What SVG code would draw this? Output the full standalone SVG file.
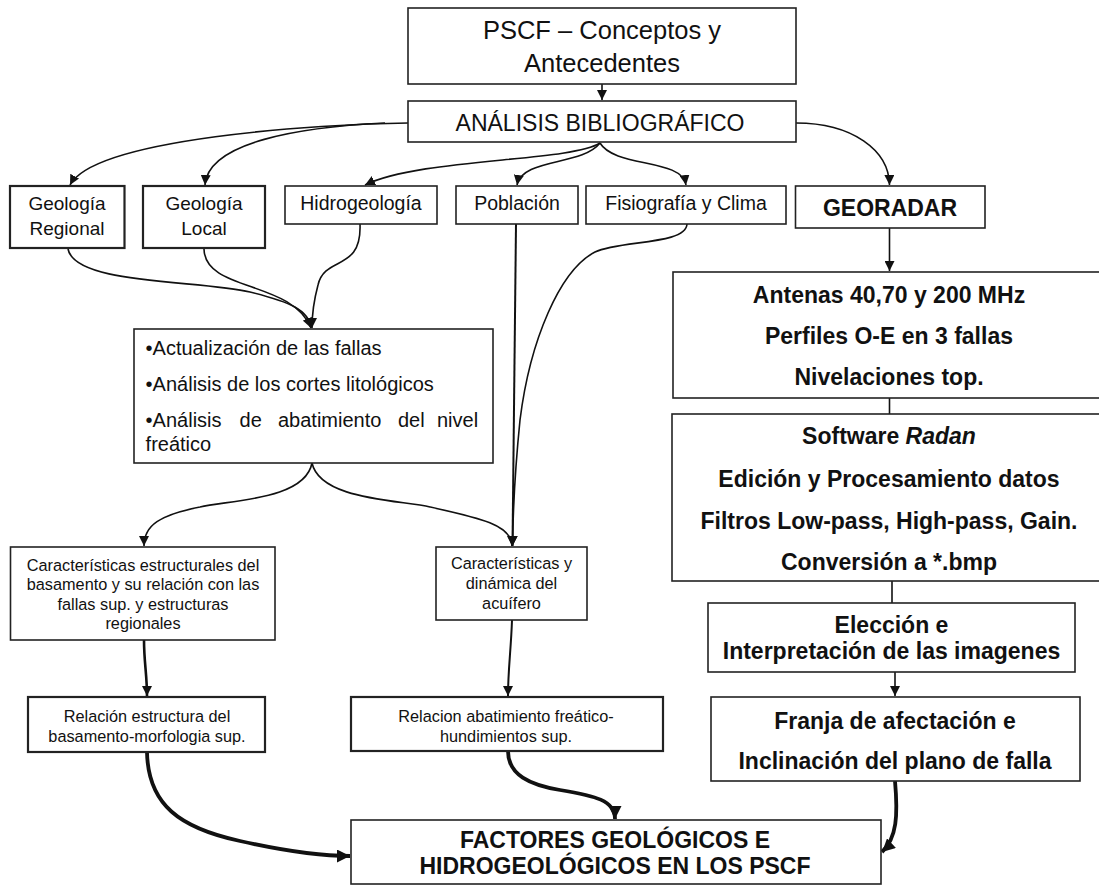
<svg xmlns="http://www.w3.org/2000/svg" width="1099" height="888" viewBox="0 0 1099 888">
<defs>
<style>
.bx{fill:#fff;stroke:#222;stroke-width:1.6}
.bx2{fill:#fff;stroke:#222;stroke-width:2.2}
.t{font-family:"Liberation Sans",Arial,sans-serif;fill:#111;text-anchor:middle}
.tl{font-family:"Liberation Sans",Arial,sans-serif;fill:#111;text-anchor:start}
.b{font-weight:bold}
.c{fill:none;stroke:#111;stroke-width:1.6}
.ck{fill:none;stroke:#111;stroke-width:2.6}
.cx{fill:none;stroke:#111;stroke-width:3.8}
</style>
<marker id="a" markerUnits="userSpaceOnUse" markerWidth="11" markerHeight="10" refX="10" refY="5" orient="auto" viewBox="0 0 11 10"><path d="M0,0 L10,5 L0,10 z" fill="#111"/></marker>
<marker id="ab" markerUnits="userSpaceOnUse" markerWidth="14" markerHeight="13" refX="13" refY="6.5" orient="auto" viewBox="0 0 14 13"><path d="M0,0 L13,6.5 L0,13 z" fill="#111"/></marker>
</defs>
<rect width="1099" height="888" fill="#fff"/>

<g id="connectors">
<path class="c" d="M602,84 L602,100" marker-end="url(#a)"/>
<path class="c" d="M408,123 C320,124 95,138 70,185" marker-end="url(#a)"/>
<path class="c" d="M385,123 C300,127 208,142 205,185" marker-end="url(#a)"/>
<path class="c" d="M600,143 C570,162 420,158 365,185" marker-end="url(#a)"/>
<path class="c" d="M600,143 C582,166 522,158 517,185" marker-end="url(#a)"/>
<path class="c" d="M600,143 C615,168 682,158 686,185" marker-end="url(#a)"/>
<path class="c" d="M796,123 C852,123 889,150 889.5,185" marker-end="url(#a)"/>
<path class="c" d="M889.5,228 L889.5,271" marker-end="url(#a)"/>
<path class="c" d="M889.5,398 L889.5,414"/>
<path class="c" d="M892,581 L892,603"/>
<path class="c" d="M895,672 L895,696" marker-end="url(#a)"/>
<path class="c" d="M68,249 C75,285 200,280 250,292 C290,302 309,310 311,328" marker-end="url(#a)"/>
<path class="c" d="M204,249 C205,292 292,280 311,328" marker-end="url(#a)"/>
<path class="c" d="M360,224 C362,272 325,255 318,285 C314,300 312,312 312,328" marker-end="url(#a)"/>
<path class="c" d="M312,463 C305,500 230,500 200,507 C160,515 144,525 144,546" marker-end="url(#a)"/>
<path class="c" d="M312,463 C320,500 400,500 430,507 C480,518 512,525 512,546" marker-end="url(#a)"/>
<path class="c" style="stroke-width:2" d="M516,224 L512.5,546" marker-end="url(#a)"/>
<path class="c" d="M687,224 C686,245 620,240 595,252 C560,270 530,340 520,420 C515,470 513,510 512.5,546" marker-end="url(#a)"/>
<path class="ck" d="M144,640 C144,662 147,675 147,696" marker-end="url(#a)"/>
<path class="c" style="stroke-width:2" d="M512,620 C511,650 508,670 508,696" marker-end="url(#a)"/>
<path class="cx" d="M147,752 C148,805 180,828 240,841 C280,850 320,856 350,856" marker-end="url(#ab)"/>
<path class="cx" d="M508,751 C508,775 530,785 560,790 C595,796 615,800 615,819" marker-end="url(#ab)"/>
<path class="cx" d="M895,781 C898,815 897,838 882,852" marker-end="url(#ab)"/>
</g>

<g id="n-pscf">
<rect class="bx" x="408" y="8" width="388" height="76"/>
<text class="t" x="602" y="39" font-size="25.5">PSCF – Conceptos y</text>
<text class="t" x="602" y="72" font-size="25.5">Antecedentes</text>
</g>
<g id="n-analisis">
<rect class="bx" x="408" y="101" width="388" height="41"/>
<text class="t" x="600" y="131" font-size="23">ANÁLISIS BIBLIOGRÁFICO</text>
</g>
<g id="n-georeg">
<rect class="bx2" x="10" y="186" width="114.5" height="62"/>
<text class="t" x="67" y="210" font-size="19">Geología</text>
<text class="t" x="67" y="235" font-size="19">Regional</text>
</g>
<g id="n-geoloc">
<rect class="bx2" x="143" y="186" width="122" height="62"/>
<text class="t" x="204" y="210" font-size="19">Geología</text>
<text class="t" x="204" y="235" font-size="19">Local</text>
</g>
<g id="n-hidro">
<rect class="bx" x="285" y="186" width="152" height="38"/>
<text class="t" x="361" y="210" font-size="19.5">Hidrogeología</text>
</g>
<g id="n-poblacion">
<rect class="bx" x="456" y="186" width="122" height="38"/>
<text class="t" x="517" y="210" font-size="19.5">Población</text>
</g>
<g id="n-fisio">
<rect class="bx" x="586" y="186" width="200" height="38"/>
<text class="t" x="686" y="210" font-size="19.5">Fisiografía y Clima</text>
</g>
<g id="n-georadar">
<rect class="bx" x="795.5" y="186" width="189.5" height="42"/>
<text class="t b" x="890" y="216" font-size="23">GEORADAR</text>
</g>
<g id="n-antenas">
<rect class="bx" x="673" y="272" width="440" height="126"/>
<text class="t b" x="889" y="303" font-size="23">Antenas 40,70 y 200 MHz</text>
<text class="t b" x="889" y="344" font-size="23">Perfiles O-E en 3 fallas</text>
<text class="t b" x="889" y="385" font-size="23">Nivelaciones top.</text>
</g>
<g id="n-software">
<rect class="bx" x="672" y="414" width="440" height="167"/>
<text class="t b" x="889" y="444" font-size="23">Software <tspan font-style="italic">Radan</tspan></text>
<text class="t b" x="889" y="487" font-size="23">Edición y Procesamiento datos</text>
<text class="t b" x="889" y="529" font-size="23">Filtros Low-pass, High-pass, Gain.</text>
<text class="t b" x="889" y="570" font-size="23">Conversión a *.bmp</text>
</g>
<g id="n-eleccion">
<rect class="bx" x="708" y="603" width="367" height="69"/>
<text class="t b" x="891.5" y="633" font-size="23">Elección e</text>
<text class="t b" x="891.5" y="659" font-size="23">Interpretación de las imagenes</text>
</g>
<g id="n-franja">
<rect class="bx" x="711" y="697" width="369" height="84"/>
<text class="t b" x="895" y="729" font-size="23">Franja de afectación e</text>
<text class="t b" x="895" y="769" font-size="23">Inclinación del plano de falla</text>
</g>
<g id="n-actualizacion">
<rect class="bx" x="134" y="329" width="359" height="134"/>
<text class="tl" x="145.6" y="355" font-size="20">•Actualización de las fallas</text>
<text class="tl" x="145.6" y="391" font-size="20">•Análisis de los cortes litológicos</text>
<text class="tl" y="427" font-size="20"><tspan x="145.6">•Análisis</tspan><tspan x="239.6">de</tspan><tspan x="278">abatimiento</tspan><tspan x="398">del</tspan><tspan x="437">nivel</tspan></text>
<text class="tl" x="145.6" y="451" font-size="20">freático</text>
</g>
<g id="n-carestr">
<rect class="bx" x="10.5" y="547" width="264.5" height="93"/>
<text class="t" x="143" y="571" font-size="16.3">Características estructurales del</text>
<text class="t" x="143" y="590" font-size="16.3">basamento y su relación con las</text>
<text class="t" x="143" y="610" font-size="16.3">fallas sup. y estructuras</text>
<text class="t" x="143" y="629" font-size="16.3">regionales</text>
</g>
<g id="n-cardin">
<rect class="bx" x="436" y="547" width="151" height="73"/>
<text class="t" x="511.5" y="569" font-size="16.3">Características y</text>
<text class="t" x="511.5" y="589" font-size="16.3">dinámica del</text>
<text class="t" x="511.5" y="609" font-size="16.3">acuífero</text>
</g>
<g id="n-relestr">
<rect class="bx2" x="28" y="697" width="237" height="55"/>
<text class="t" x="147" y="722" font-size="16.3">Relación estructura del</text>
<text class="t" x="147" y="742" font-size="16.3">basamento-morfologia sup.</text>
</g>
<g id="n-relabat">
<rect class="bx2" x="351" y="697" width="312" height="54"/>
<text class="t" x="506" y="722" font-size="16.3">Relacion abatimiento freático-</text>
<text class="t" x="506" y="742" font-size="16.3">hundimientos sup.</text>
</g>
<g id="n-factores">
<rect class="bx" x="351" y="820" width="530" height="64"/>
<text class="t b" x="615" y="848" font-size="23">FACTORES GEOLÓGICOS E</text>
<text class="t b" x="615" y="874" font-size="23">HIDROGEOLÓGICOS EN LOS PSCF</text>
</g>
</svg>
